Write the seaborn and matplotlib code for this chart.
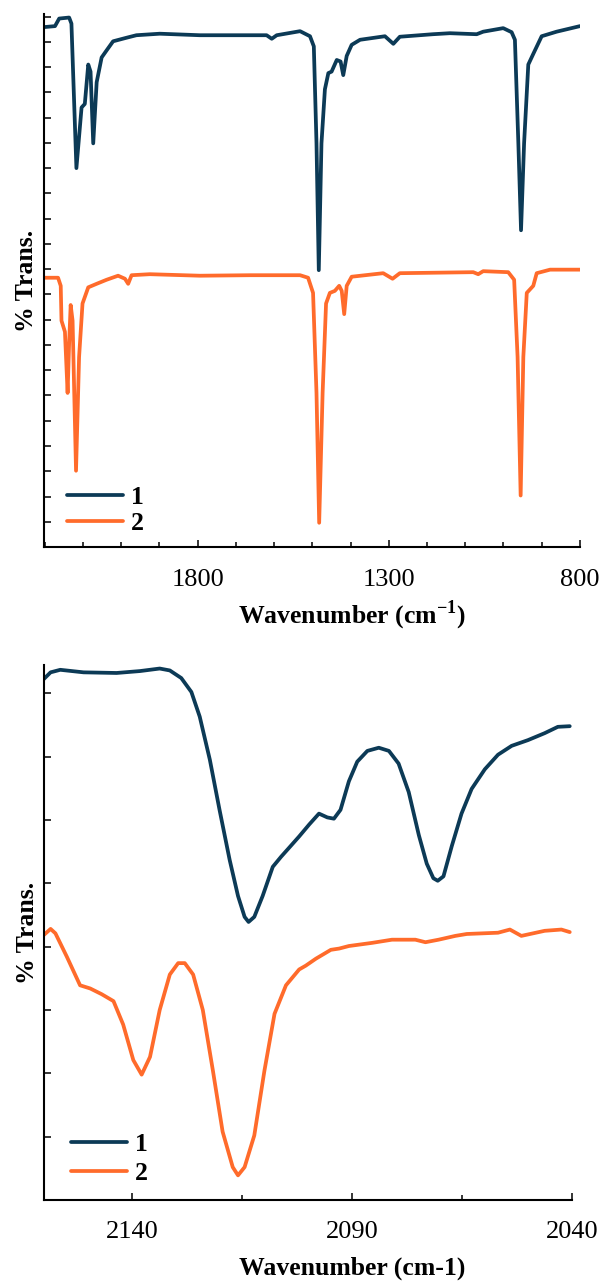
import numpy as np
import pandas as pd
import matplotlib
matplotlib.use("Agg")
import matplotlib.pyplot as plt
import seaborn as sns
from matplotlib.ticker import FixedLocator, MultipleLocator

# ----- FULL RANGE SPECTRA (top panel) -----
wn_top_1 = [2203, 2173, 2162, 2136, 2130, 2117, 2103.5, 2095, 2086, 2080, 2073, 2064, 2051,
            2038, 2021, 1986, 1960, 1899, 1794, 1663, 1619.5, 1606, 1593, 1532, 1506, 1496,
            1489, 1483, 1476, 1467, 1458, 1449.5, 1436, 1426, 1419, 1410, 1397, 1375, 1310,
            1288, 1271, 1184.5, 1140, 1070, 1053, 1000.6, 978.6, 970, 961, 954, 946, 935,
            922, 900, 861, 800]
tr_top_1 = [102.9, 103.1, 104.6, 104.8, 103.6, 75.0, 87.0, 87.7, 95.5, 94.1, 79.9, 92.0, 96.9,
            98.3, 100.1, 100.8, 101.3, 101.6, 101.3, 101.3, 101.3, 100.6, 101.3, 102.1, 101.1, 99.1,
            79.9, 54.8, 79.9, 90.6, 93.8, 94.1, 96.4, 96.1, 93.4, 97.2, 99.4, 100.4, 101.1,
            99.6, 101.0, 101.5, 101.7, 101.5, 102.0, 102.7, 101.9, 100.4, 79.9, 62.7, 79.9, 95.5,
            97.6, 101.1, 102.0, 103.1]

wn_top_2 = [2203, 2165, 2158, 2156, 2147, 2140, 2136, 2132, 2127, 2118, 2110, 2101, 2086,
            2064, 2038, 2008, 1990, 1981.6, 1972.7, 1925, 1794, 1663, 1532, 1511, 1498, 1489,
            1482, 1473, 1464, 1454, 1441, 1429.6, 1423, 1416.5, 1410, 1397, 1314.5, 1290, 1271,
            1079, 1066, 1053, 987.5, 972, 963, 955, 948, 939, 922, 913, 878, 800]
tr_top_2 = [53.3, 53.3, 51.7, 44.8, 42.6, 30.5, 40.4, 47.9, 44.8, 15.1, 37.6, 48.2, 51.4,
            52.1, 52.9, 53.7, 53.1, 52.1, 53.8, 54.0, 53.7, 53.8, 53.8, 53.3, 50.3, 30.5,
            4.8, 30.5, 48.2, 50.3, 50.7, 51.7, 50.7, 46.1, 51.7, 53.5, 54.2, 53.1, 54.2,
            54.4, 54.0, 54.6, 54.4, 52.9, 37.6, 10.2, 37.6, 50.3, 51.7, 54.2, 54.9, 54.9]

# ----- CN STRETCH REGION (bottom panel) -----
wn_bot_1 = [2160.2, 2158.6, 2156.4, 2151.1, 2143.6, 2138.3, 2133.8, 2131.5, 2128.9, 2126.6,
            2124.7, 2122.4, 2120.2, 2117.9, 2116.0, 2114.5, 2113.6, 2112.3, 2110.4, 2108.1,
            2106.2, 2104.4, 2102.1, 2099.8, 2097.6, 2095.7, 2094.2, 2092.7, 2090.8, 2088.9,
            2086.6, 2084.0, 2081.7, 2079.5, 2077.2, 2074.9, 2073.1, 2071.6, 2070.6, 2069.3,
            2067.4, 2065.2, 2062.9, 2059.9, 2056.9, 2053.8, 2050.1, 2046.3, 2043.3, 2040.6]
tr_bot_1 = [82.2, 83.3, 83.7, 83.3, 83.2, 83.5, 83.9, 83.6, 82.4, 80.2,
            76.3, 69.5, 61.6, 53.7, 48.0, 44.7, 43.9, 44.7, 48.0, 52.6,
            54.2, 55.6, 57.4, 59.3, 61.0, 60.4, 60.2, 61.6, 66.1, 69.2,
            70.9, 71.4, 70.9, 68.9, 64.4, 57.6, 53.1, 50.8, 50.4, 51.1,
            55.9, 61.0, 64.9, 68.0, 70.3, 71.7, 72.6, 73.7, 74.7, 74.8]

wn_bot_2 = [2160.2, 2158.6, 2157.5, 2154.9, 2151.9, 2149.6, 2147.0, 2144.3, 2142.1, 2139.8,
            2137.9, 2136.0, 2133.8, 2131.5, 2129.6, 2128.1, 2126.2, 2124.0, 2121.7, 2119.5,
            2117.2, 2116.0, 2114.5, 2112.3, 2110.0, 2107.7, 2105.1, 2102.1, 2100.6, 2098.3,
            2094.9, 2093.0, 2090.8, 2085.5, 2081.0, 2075.7, 2073.4, 2070.4, 2066.6, 2064.0,
            2056.9, 2054.2, 2051.6, 2046.3, 2042.5, 2040.6]
tr_bot_2 = [41.8, 42.8, 42.1, 38.4, 33.9, 33.4, 32.5, 31.4, 27.7, 22.1,
            19.8, 22.6, 30.0, 35.6, 37.4, 37.4, 35.6, 30.0, 20.4, 10.8,
            5.2, 3.9, 5.2, 10.2, 20.4, 29.4, 33.9, 36.4, 37.0, 38.1,
            39.5, 39.7, 40.1, 40.6, 41.1, 41.1, 40.7, 41.1, 41.7, 42.0,
            42.2, 42.7, 41.7, 42.5, 42.7, 42.3]

colors = {"1": "#0c3a56", "2": "#ff6b2b"}


def to_frame(wn1, tr1, wn2, tr2):
    d1 = pd.DataFrame({"wn": wn1, "T": tr1, "sample": "1"})
    d2 = pd.DataFrame({"wn": wn2, "T": tr2, "sample": "2"})
    return pd.concat([d1, d2], ignore_index=True)


sns.set_style("ticks")
plt.rcParams["font.family"] = ["Liberation Serif", "DejaVu Serif"]
plt.rcParams["mathtext.fontset"] = "custom"
plt.rcParams["mathtext.rm"] = "Liberation Serif"
plt.rcParams["mathtext.bf"] = "Liberation Serif:bold"
for key in ["text.color", "axes.labelcolor", "xtick.color", "ytick.color"]:
    plt.rcParams[key] = "black"

fig = plt.figure(figsize=(6.02, 12.85), dpi=100)
ax_top = fig.add_axes([0.0723, 0.5743, 0.891, 0.4148])
ax_bot = fig.add_axes([0.0738, 0.0661, 0.877, 0.4161])


def style_axis(ax, xlabel, label_xy, tick_pad, leg_anchor, leg_spacing):
    for side in ["top", "right"]:
        ax.spines[side].set_visible(False)
    for side in ["left", "bottom"]:
        ax.spines[side].set_linewidth(1.5)
        ax.spines[side].set_color("black")
    ax.tick_params(axis="both", which="both", direction="in", width=1.1, color="black")
    ax.tick_params(axis="y", which="major", length=5, labelleft=False)
    ax.tick_params(axis="x", which="major", length=5, labelsize=19, pad=tick_pad)
    ax.tick_params(axis="x", which="minor", length=3.5)
    ax.set_xlabel(xlabel, fontsize=18.5, fontweight="bold")
    ax.xaxis.set_label_coords(*label_xy)
    ax.set_ylabel("% Trans.", fontsize=18.5, fontweight="bold", labelpad=4)
    handles, labels = ax.get_legend_handles_labels()
    ax.legend(handles, labels, loc="lower left", bbox_to_anchor=leg_anchor, frameon=False,
              borderpad=0, borderaxespad=0, handlelength=2.2, handletextpad=0.3,
              labelspacing=leg_spacing, prop={"weight": "bold", "size": 18.5})


df_top = to_frame(wn_top_1, tr_top_1, wn_top_2, tr_top_2)
sns.lineplot(data=df_top, x="wn", y="T", hue="sample", palette=colors, estimator=None,
             sort=False, linewidth=2.7, ax=ax_top)
ax_top.set_xlim(2203, 800)
ax_top.set_ylim(0, 105.5)
ax_top.xaxis.set_major_locator(FixedLocator([1800, 1300, 800]))
ax_top.xaxis.set_minor_locator(MultipleLocator(100))
ax_top.yaxis.set_major_locator(MultipleLocator(5))
style_axis(ax_top, r"Wavenumber (cm$^{\mathbf{-1}}$)", (0.575, -0.097), 16,
           (0.043, 0.022), 0.12)

df_bot = to_frame(wn_bot_1, tr_bot_1, wn_bot_2, tr_bot_2)
sns.lineplot(data=df_bot, x="wn", y="T", hue="sample", palette=colors, estimator=None,
             sort=False, linewidth=2.7, ax=ax_bot)
ax_bot.set_xlim(2160, 2040)
ax_bot.set_ylim(0, 84.4)
ax_bot.xaxis.set_major_locator(FixedLocator([2140, 2090, 2040]))
ax_bot.xaxis.set_minor_locator(FixedLocator([2115, 2065]))
ax_bot.yaxis.set_major_locator(MultipleLocator(10))
style_axis(ax_bot, "Wavenumber (cm-1)", (0.583, -0.105), 15, (0.05, 0.028), 0.25)

fig.savefig("out.png", dpi=100)
